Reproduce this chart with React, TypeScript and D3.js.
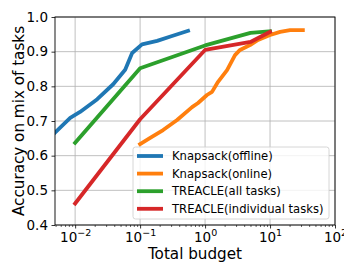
import * as d3 from 'd3'
import { useEffect, useRef } from 'react'

// Knapsack(offline)
const budgetOffline = [0.0045, 0.0084, 0.0119, 0.0219, 0.0385, 0.0589, 0.0754, 0.107, 0.183, 0.31, 0.547]
const accOffline = [0.66, 0.709, 0.726, 0.763, 0.806, 0.848, 0.896, 0.921, 0.931, 0.945, 0.96]

// Knapsack(online)
const budgetOnline = [0.1, 0.143, 0.226, 0.371, 0.631, 0.78, 1.07, 1.28, 1.585, 2.18, 2.89, 3.45, 4.92, 6.53, 10, 14.3, 20.3, 32]
const accOnline = [0.633, 0.651, 0.674, 0.703, 0.74, 0.752, 0.775, 0.784, 0.813, 0.847, 0.89, 0.905, 0.919, 0.934, 0.948, 0.957, 0.962, 0.962]

// TREACLE(all tasks)
const budgetAll = [0.01, 0.1, 1, 5, 10]
const accAll = [0.637, 0.852, 0.918, 0.954, 0.959]

// TREACLE(individual tasks)
const budgetIndiv = [0.01, 0.1, 1, 5, 10]
const accIndiv = [0.462, 0.705, 0.905, 0.928, 0.957]

const seriesNames = ['Knapsack(offline)', 'Knapsack(online)', 'TREACLE(all tasks)', 'TREACLE(individual tasks)']
const seriesColors = ['#1f77b4', '#ff7f0e', '#2ca02c', '#d62728']
const yTicks = [0.4, 0.5, 0.6, 0.7, 0.8, 0.9, 1.0]
const xTickExps = [-2, -1, 0, 1, 2]

const W = 344
const H = 269
const margin = { top: 17, right: 9, bottom: 44, left: 55 }
const FONT = 'DejaVu Sans, sans-serif'

export default function App() {
  const ref = useRef<SVGSVGElement>(null)

  useEffect(() => {
    const svg = d3.select(ref.current)
    svg.selectAll('*').remove()

    const width = W - margin.left - margin.right
    const height = H - margin.top - margin.bottom

    const x = d3.scaleLog().domain([Math.pow(10, -2.31), 100]).range([0, width])
    const y = d3.scaleLinear().domain([0.4, 1.0]).range([height, 0])

    svg.append('defs').append('clipPath').attr('id', 'plotclip')
      .append('rect').attr('width', width).attr('height', height)

    const g = svg.append('g').attr('transform', 'translate(' + margin.left + ',' + margin.top + ')')

    // grid
    const grid = g.append('g')
    grid.selectAll('.gx').data(xTickExps.map(e => Math.pow(10, e))).enter().append('line')
      .attr('x1', d => x(d)).attr('x2', d => x(d)).attr('y1', 0).attr('y2', height)
      .attr('stroke', '#b0b0b0').attr('stroke-width', 0.8)
    grid.selectAll('.gy').data(yTicks).enter().append('line')
      .attr('x1', 0).attr('x2', width).attr('y1', d => y(d)).attr('y2', d => y(d))
      .attr('stroke', '#b0b0b0').attr('stroke-width', 0.8)

    // lines
    const line = d3.line<[number, number]>().x(d => x(d[0])).y(d => y(d[1]))
    const all: [number[], number[]][] = [
      [budgetOffline, accOffline],
      [budgetOnline, accOnline],
      [budgetAll, accAll],
      [budgetIndiv, accIndiv],
    ]
    const lines = g.append('g').attr('clip-path', 'url(#plotclip)')
    all.forEach(([bx, ay], i) => {
      const pts = bx.map((b, j) => [b, ay[j]] as [number, number])
      lines.append('path').attr('d', line(pts))
        .attr('fill', 'none').attr('stroke', seriesColors[i]).attr('stroke-width', 3.8)
        .attr('stroke-linejoin', 'round').attr('stroke-linecap', 'square')
    })

    // y axis
    const yAxis = d3.axisLeft(y).tickValues(yTicks).tickFormat(d3.format('.1f')).tickSize(3.5).tickPadding(3.5)
    const ya = g.append('g').call(yAxis)
    ya.select('.domain').remove()
    ya.selectAll('text').attr('font-family', FONT).attr('font-size', 13.5).attr('fill', '#000')
    ya.selectAll('line').attr('stroke', '#000').attr('stroke-width', 0.8)

    // x axis minor ticks
    const minors: number[] = []
    for (let e = -3; e < 2; e++) for (let k = 2; k < 10; k++) {
      const v = k * Math.pow(10, e)
      if (v >= x.domain()[0] && v <= 100) minors.push(v)
    }
    const xMinor = d3.axisBottom(x).tickValues(minors).tickFormat(() => '').tickSize(2)
    const xm = g.append('g').attr('transform', 'translate(0,' + height + ')').call(xMinor)
    xm.select('.domain').remove()
    xm.selectAll('line').attr('stroke', '#000').attr('stroke-width', 0.6)

    const xAxis = d3.axisBottom(x).tickValues(xTickExps.map(e => Math.pow(10, e))).tickFormat(() => '').tickSize(3.5).tickPadding(3.5)
    const xa = g.append('g').attr('transform', 'translate(0,' + height + ')').call(xAxis)
    xa.select('.domain').remove()
    xa.selectAll('line').attr('stroke', '#000').attr('stroke-width', 0.8)
    xa.selectAll('.tick').each(function (d, i) {
      const t = d3.select(this).append('text')
        .attr('y', 16.5).attr('text-anchor', 'middle')
        .attr('font-family', FONT).attr('fill', '#000')
      t.append('tspan').attr('font-size', 13.5).text('10')
      t.append('tspan').attr('font-size', 9.5).attr('dy', -5.5)
        .text(xTickExps[i] < 0 ? '\u2212' + Math.abs(xTickExps[i]) : String(xTickExps[i]))
    })

    // spines
    g.append('rect').attr('width', width).attr('height', height)
      .attr('fill', 'none').attr('stroke', '#000').attr('stroke-width', 0.9)

    // axis labels
    svg.append('text').attr('x', margin.left + width / 2).attr('y', 259)
      .attr('text-anchor', 'middle').attr('font-family', FONT).attr('font-size', 15.2)
      .text('Total budget')
    svg.append('text').attr('transform', 'translate(24,' + (margin.top + height / 2) + ') rotate(-90)')
      .attr('text-anchor', 'middle').attr('font-family', FONT).attr('font-size', 15.2)
      .text('Accuracy on mix of tasks')

    // legend
    const leg = svg.append('g').attr('transform', 'translate(133,147)')
    leg.append('rect').attr('width', 196).attr('height', 72).attr('rx', 2.5)
      .attr('fill', '#fff').attr('fill-opacity', 0.8).attr('stroke', '#cccccc').attr('stroke-width', 0.8)
    seriesNames.forEach((name, i) => {
      const yy = 9 + i * 17.6
      leg.append('line').attr('x1', 4).attr('x2', 30).attr('y1', yy).attr('y2', yy)
        .attr('stroke', seriesColors[i]).attr('stroke-width', 3.8)
      leg.append('text').attr('x', 39).attr('y', yy + 4.2)
        .attr('font-family', FONT).attr('font-size', 11.6).attr('fill', '#000').text(name)
    })
  }, [])

  return (
    <svg ref={ref} width={W} height={H}
      style={{ position: 'absolute', left: 0, top: 0, background: '#fff' }} />
  )
}
